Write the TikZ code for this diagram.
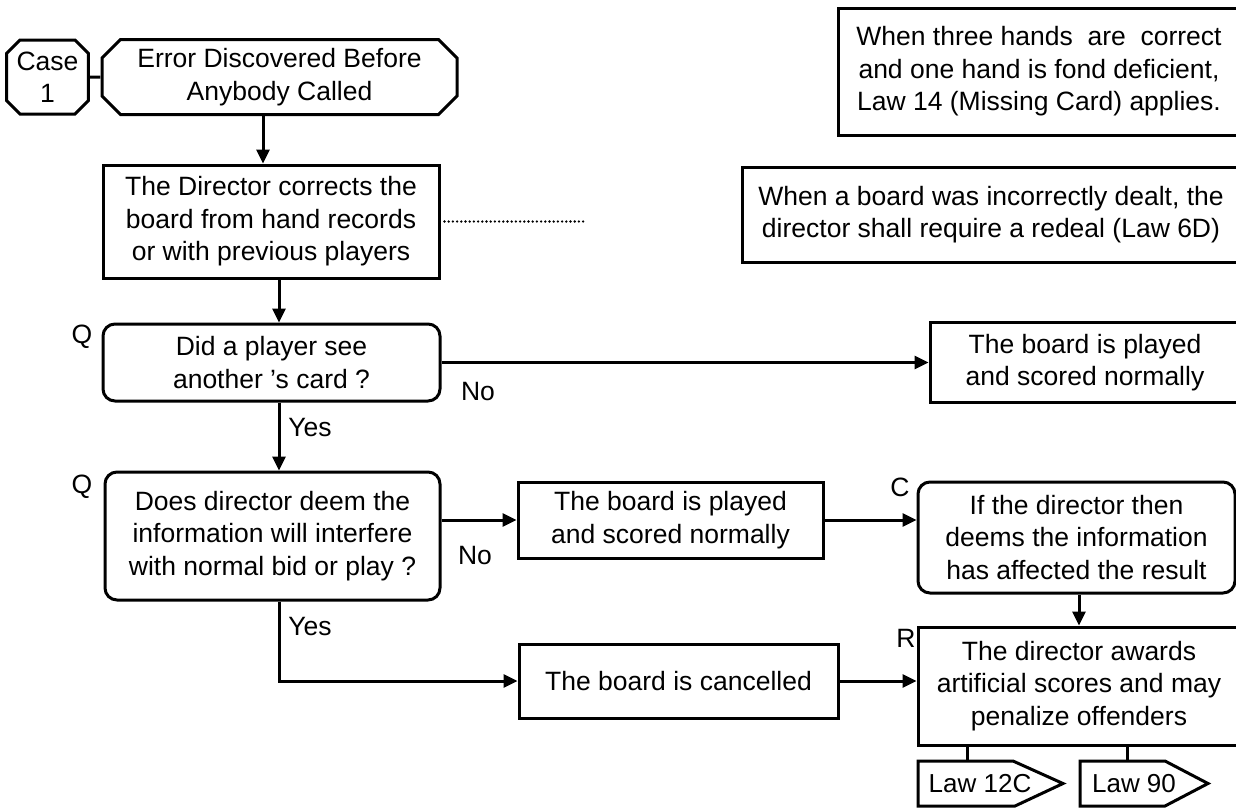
\documentclass[tikz,border=0pt]{standalone}
\usepackage{fontspec}
\setmainfont{Liberation Sans}
\usetikzlibrary{arrows.meta,shapes.misc}

\newcommand{\txt}{\fontsize{26.5}{32.5}\selectfont}

\begin{document}
\begin{tikzpicture}[x=1pt,y=-1pt,line width=3pt,
    every node/.style={font=\txt},
    rect/.style={draw, align=center, inner sep=0pt},
    rbox/.style={rect, rounded corners=12pt},
    cbox/.style={rect, chamfered rectangle, chamfered rectangle xsep=#1},
    tagtext/.style={font=\fontsize{26}{30}\selectfont},
    flow/.style={-{Triangle[length=14pt,width=13pt]}}]
		\clip (0,0) rectangle (1236,807);

		% start
		\node[cbox=10pt, minimum width=81pt, minimum height=74pt] (case) at (47.5,77) {Case\\1};
		\node[cbox=15pt, minimum width=355pt, minimum height=75pt] (err) at (279.5,77) {Error Discovered Before\\Anybody Called};
		\draw (case) -- (err);

		% notes top right
		\node[rect, minimum width=402pt, minimum height=127pt] (noteA) at (1039,71.5) {When three hands\ \ are\ \ correct\\and one hand is fond deficient,\\Law 14 (Missing Card) applies.};
		\node[rect, minimum width=498pt, minimum height=95pt] (noteB) at (991,214.5) {When a board was incorrectly dealt, the\\director shall require a redeal (Law 6D)};

		% main column
		\node[rect, minimum width=336pt, minimum height=113pt] (dir) at (271,221.5) {The Director corrects the\\board from hand records\\or with previous players};
		\node[rbox, minimum width=337pt, minimum height=77pt] (q1) at (271.5,362.5) {Did a player see\\another 's card ?};
		\node[rbox, minimum width=335pt, minimum height=128pt] (q2) at (272.5,536) {Does director deem the\\information will interfere\\with normal bid or play ?};

		% outcomes
		\node[rect, minimum width=310pt, minimum height=80pt] (play1) at (1085,362.5) {The board is played\\and scored normally};
		\node[rect, minimum width=305pt, minimum height=76pt] (play2) at (670.5,520) {The board is played\\and scored normally};
		\node[rect, minimum width=319pt, minimum height=74pt] (cancel) at (678.5,681) {The board is cancelled};
		\node[rbox, minimum width=317pt, minimum height=111pt] (cond) at (1076.5,537.5) {If the director then\\deems the information\\has affected the result};
		\node[rect, minimum width=322pt, minimum height=118pt] (award) at (1079,686) {The director awards\\artificial scores and may\\penalize offenders};

		% law tags
		\coordinate (tagA) at (918,761);
		\coordinate (tagB) at (1080,761);
		\draw (tagA) -- ++(95,0) -- ++(50,22.5) -- ++(-48,22.5) -- ++(-97,0) -- cycle;
		\draw (tagB) -- ++(85,0) -- ++(43,22.5) -- ++(-43,22.5) -- ++(-85,0) -- cycle;
		\node[tagtext] (law12) at (980,783.5) {Law 12C};
		\node[tagtext] (law90) at (1134,783.5) {Law 90};
		\coordinate (lawA) at (967,761);
		\coordinate (lawB) at (1127,761);

		% letters
		\node (qa) at (82,337) {Q};
		\node (qb) at (82,487) {Q};
		\node (cc) at (900,487) {C};
		\node (rr) at (906,638) {R};
		\node (noa) at (478,392) {No};
		\node (nob) at (475,555) {No};
		\node (yesa) at (310,428) {Yes};
		\node (yesb) at (310,626) {Yes};

		% arrows
		\draw[flow] ([xshift=-16.5pt]err.south) -- ([xshift=-8pt]dir.north);
		\coordinate (dotend) at (584,221.5);
		\draw[line width=2.6pt, line cap=round, dash pattern=on 0pt off 4.2pt] ([xshift=4pt]dir.east) -- (dotend);
		\draw[flow] ([xshift=8pt]dir.south) -- ([xshift=7.5pt]q1.north);
		\draw[flow] (q1.east) -- (play1.west);
		\draw[flow] ([xshift=7.5pt]q1.south) -- ([xshift=6.5pt]q2.north);
		\draw[flow] (q2.east |- play2.west) -- (play2.west);
		\draw[flow] (play2.east) -- (play2.east -| cond.west);
		\draw[flow] (cond.south -| award.north) -- (award.north);
		\draw[flow] ([xshift=6.5pt]q2.south) |- (cancel.west);
		\draw[flow] (cancel.east) -- (cancel.east -| award.west);
		\draw (lawA |- award.south) -- (lawA);
		\draw (lawB |- award.south) -- (lawB);
\end{tikzpicture}
\end{document}
